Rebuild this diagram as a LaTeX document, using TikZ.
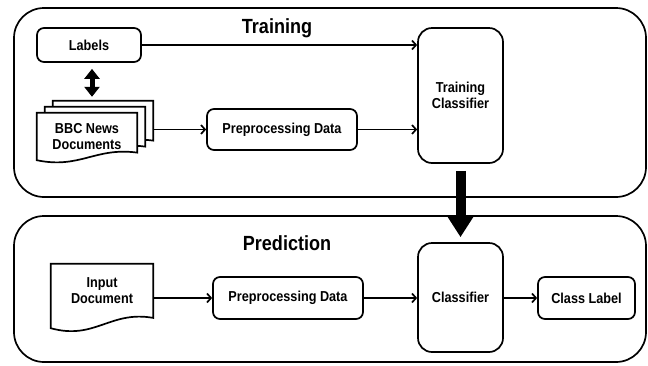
\documentclass[tikz,border=0pt]{standalone}
\usepackage{fontspec}
\setmainfont{Liberation Sans}[FakeStretch=0.88]
\usetikzlibrary{arrows.meta,calc}
\def\docshape[#1](#2){\draw[#1] let \p1=(#2.north west), \p2=(#2.south east) in (\x1,\y1) -- (\x2,\y1) -- (\x2,{\y2+0.16*(\y1-\y2)}) .. controls ({\x2-0.42*(\x2-\x1)},{\y2+0.28*(\y1-\y2)}) and ({\x1+0.43*(\x2-\x1)},{\y2-0.19*(\y1-\y2)}) .. (\x1,\y2) -- cycle;}

\begin{document}
\begin{tikzpicture}[x=1pt,y=-1pt,
	txt/.style={font=\bfseries\fontsize{14.4}{16}\selectfont, align=center},
	box/.style={txt, draw, line width=1.7pt, rounded corners=7pt, minimum height=41},
	clfbox/.style={box, rounded corners=14pt, minimum width=85},
	docnode/.style={inner sep=0pt},
	docline/.style={line width=1.7pt, fill=white},
	frame/.style={line width=1.7pt, rounded corners=30pt},
	title/.style={font=\bfseries\fontsize{20.5}{24}\selectfont},
	arr/.style={line width=1.7pt, -{Straight Barb[length=4pt,width=9pt]}},
	dblarr/.style={line width=5pt, {Triangle[length=10pt,width=15pt]}-{Triangle[length=10pt,width=15pt]}, shorten <=6pt, shorten >=4pt},
	bigarr/.style={line width=10pt, -{Triangle[length=20pt,width=24pt]}, shorten <=7pt, shorten >=5pt}]
		%%%%% START %%%%%
		\useasboundingbox (0,0) rectangle (648,365);
		
		% training frame
		\draw[frame] (14,8) rectangle (646,197);
		\node[title] (ttrain) at (277,28) {Training};
		
		\node[box, minimum width=104, minimum height=34] (lab) at (89,45) {Labels};
		\node[box, minimum width=150] (prep1) at (282,129.5) {Preprocessing Data};
		\node[clfbox, minimum height=135] (tclf) at (460.5,95.5) {Training\\Classifier};
		
		\node[docnode, minimum width=100, minimum height=47] (doc3) at (103,124.5) {};
		\node[docnode, minimum width=100, minimum height=47] (doc2) at (95,130.5) {};
		\node[docnode, minimum width=100, minimum height=47] (bbc) at (87,136.5) {};
		\docshape[docline](doc3);
		\docshape[docline](doc2);
		\docshape[docline](bbc);
		\node[txt] (bbctxt) at (bbc.center) {BBC News\\Documents};
		
		\draw[dblarr] ([xshift=3pt]lab.south) -- ([xshift=3pt]lab.south |- doc3.north);
		\draw[arr] (lab.east) -- (lab.east -| tclf.west);
		\draw[arr] (doc3.east |- prep1.west) -- (prep1.west);
		\draw[arr] (prep1.east) -- (prep1.east -| tclf.west);
		
		% prediction frame
		\draw[frame] (14,216) rectangle (646,362);
		\node[title] (tpred) at (287,243) {Prediction};
		
		\node[docnode, minimum width=102, minimum height=64] (indoc) at (102,296) {};
		\docshape[docline](indoc);
		\node[txt] (indoctxt) at ([yshift=5pt]indoc.center) {Input\\Document};
		\node[box, minimum width=150, minimum height=42] (prep2) at (288,298) {Preprocessing Data};
		\node[clfbox, minimum height=109] (pclf) at (460.5,297.5) {Classifier};
		\node[box, minimum width=97, minimum height=42] (clab) at (586.5,298) {Class Label};
		
		\draw[arr] (indoc.east |- prep2.west) -- (prep2.west);
		\draw[arr] (prep2.east) -- (pclf.west |- prep2.east);
		\draw[arr] (pclf.east |- clab.west) -- (clab.west);
		
		\draw[bigarr] (tclf.south) -- (pclf.north);
		%%%%% END %%%%%
\end{tikzpicture}
\end{document}
